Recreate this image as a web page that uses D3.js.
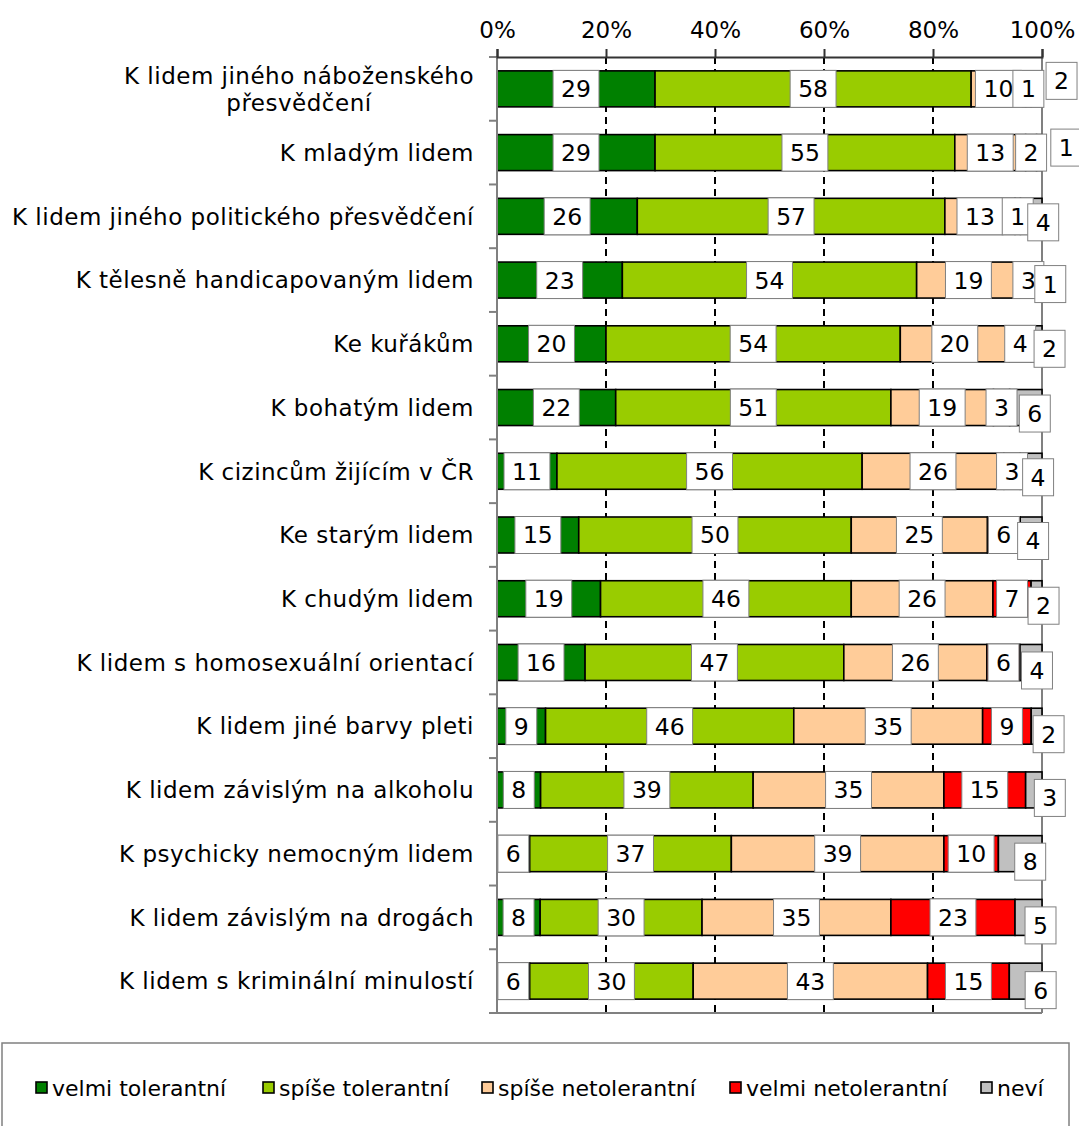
<!DOCTYPE html>
<html>
<head>
<meta charset="utf-8">
<script src="https://cdn.jsdelivr.net/npm/d3@7"></script>
<style>
  html, body { margin: 0; padding: 0; background: #fff; }
  svg { display: block; }
  text { font-family: "DejaVu Sans", Verdana, sans-serif; fill: #000; }
</style>
</head>
<body>
<svg id="chart" width="1079" height="1126"></svg>
<script>
// ---------------- data ----------------
const categories = [
  "K lidem jiného náboženského přesvědčení",
  "K mladým lidem",
  "K lidem jiného politického přesvědčení",
  "K tělesně handicapovaným lidem",
  "Ke kuřákům",
  "K bohatým lidem",
  "K cizincům žijícím v ČR",
  "Ke starým lidem",
  "K chudým lidem",
  "K lidem s homosexuální orientací",
  "K lidem jiné barvy pleti",
  "K lidem závislým na alkoholu",
  "K psychicky nemocným lidem",
  "K lidem závislým na drogách",
  "K lidem s kriminální minulostí"
];
const seriesNames = ["velmi tolerantní", "spíše tolerantní", "spíše netolerantní", "velmi netolerantní", "neví"];
const velmiTolerantni   = [29, 29, 26, 23, 20, 22, 11, 15, 19, 16,  9,  8,  6,  8,  6];
const spiseTolerantni   = [58, 55, 57, 54, 54, 51, 56, 50, 46, 47, 46, 39, 37, 30, 30];
const spiseNetolerantni = [10, 13, 13, 19, 20, 19, 26, 25, 26, 26, 35, 35, 39, 35, 43];
const velmiNetolerantni = [ 1,  2,  1,  3,  4,  3,  3,  6,  7,  6,  9, 15, 10, 23, 15];
const nevi              = [ 2,  1,  4,  1,  2,  6,  4,  4,  2,  4,  2,  3,  8,  5,  6];
const tickValues = [0, 20, 40, 60, 80, 100];

// layout-only: manual nudges of the "neví" labels [dx, dy] in px, legend item x positions
const neviLabelNudge = [[25,-8],[27,-5],[12,6],[11,4],[13,5],[9,6],[7,6],[2,6],[7,7],[6,8],[12,8],[16,8],[10,8],[12,8],[15,9]];
const legendItemX = [36, 263, 482, 730, 981];

const seriesValues = [velmiTolerantni, spiseTolerantni, spiseNetolerantni, velmiNetolerantni, nevi];
const colors = ["#008000", "#99CC00", "#FFCC99", "#FF0000", "#C0C0C0"];

// ---------------- scales ----------------
const svg = d3.select("#chart");
const plot = { left: 497, right: 1042, top: 57, bottom: 1013 };

const x = d3.scaleLinear().domain([0, 100]).range([plot.left, plot.right]);
const y = d3.scaleBand().domain(categories).range([plot.top, plot.bottom])
  .paddingInner(0.435).paddingOuter(0.2175);

// build stacked (100%) data
const rows = categories.map((c, i) => {
  const obj = { cat: c };
  seriesNames.forEach((s, k) => obj[s] = seriesValues[k][i]);
  return obj;
});
const stack = d3.stack().keys(seriesNames).offset(d3.stackOffsetExpand);
const stacked = stack(rows);

// ---------------- gridlines ----------------
svg.append("g").selectAll("line").data(tickValues.filter(v => v > 0 && v < 100)).join("line")
  .attr("x1", d => x(d)).attr("x2", d => x(d))
  .attr("y1", plot.top).attr("y2", plot.bottom)
  .attr("stroke", "#000").attr("stroke-width", 2).attr("stroke-dasharray", "7,5");

// plot frame right & bottom (gray)
svg.append("line").attr("x1", x(100)).attr("x2", x(100)).attr("y1", plot.top).attr("y2", plot.bottom)
  .attr("stroke", "#808080").attr("stroke-width", 2);
svg.append("line").attr("x1", plot.left).attr("x2", x(100)).attr("y1", plot.bottom).attr("y2", plot.bottom)
  .attr("stroke", "#808080").attr("stroke-width", 2);

// ---------------- bars ----------------
const barG = svg.append("g");
stacked.forEach((layer, k) => {
  barG.append("g").selectAll("rect").data(layer).join("rect")
    .attr("x", d => x(d[0] * 100))
    .attr("width", d => Math.max(0, x(d[1] * 100) - x(d[0] * 100)))
    .attr("y", d => y(d.data.cat))
    .attr("height", y.bandwidth())
    .attr("fill", colors[k])
    .attr("stroke", "#000").attr("stroke-width", 1.6);
});

// ---------------- axes ----------------
const leftG = svg.append("g");
leftG.append("line").attr("x1", plot.left).attr("x2", plot.left).attr("y1", plot.top).attr("y2", plot.bottom)
  .attr("stroke", "#808080").attr("stroke-width", 2);
const boundaries = d3.range(categories.length + 1).map(i => plot.top + i * y.step());
leftG.selectAll("line.t").data(boundaries).join("line").attr("class", "t")
  .attr("x1", plot.left - 8).attr("x2", plot.left).attr("y1", d => d).attr("y2", d => d)
  .attr("stroke", "#808080").attr("stroke-width", 2);

const topAxis = d3.axisTop(x).tickValues(tickValues).tickFormat(d => d + "%").tickSize(8).tickPadding(11);
const topG = svg.append("g").attr("transform", `translate(0,${plot.top})`).call(topAxis);
topG.select(".domain").attr("stroke", "#333").attr("stroke-width", 2);
topG.selectAll(".tick line").attr("stroke", "#333").attr("stroke-width", 2);
topG.selectAll(".tick text").attr("font-size", 23).attr("font-family", "DejaVu Sans").attr("fill", "#000");

// category labels (wrapped, centered block, right aligned to axis)
const labelRight = 474;
const maxLabelWidth = 478;
const catG = svg.append("g").attr("font-size", 23).attr("letter-spacing", 0.5);
const measurer = catG.append("text").attr("visibility", "hidden");
function measure(t) { measurer.text(t); return measurer.node().getComputedTextLength(); }
categories.forEach(c => {
  const words = c.split(" ");
  const lines = [];
  let cur = "";
  words.forEach(w => {
    const test = cur ? cur + " " + w : w;
    if (measure(test) > maxLabelWidth && cur) { lines.push(cur); cur = w; } else cur = test;
  });
  lines.push(cur);
  const widths = lines.map(measure);
  const maxW = d3.max(widths);
  const cx = labelRight - maxW / 2;
  const cy = y(c) + y.bandwidth() / 2;
  const lh = 27;
  const t = catG.append("text").attr("text-anchor", "middle");
  lines.forEach((ln, i) => {
    t.append("tspan").attr("x", cx)
      .attr("y", cy + (i - (lines.length - 1) / 2) * lh)
      .attr("dy", "0.36em").text(ln);
  });
});
measurer.remove();

// ---------------- value labels ----------------
const lblG = svg.append("g").attr("font-size", 23.5);
const lblMeasure = lblG.append("text").attr("visibility", "hidden");
stacked.forEach((layer, k) => {
  layer.forEach((d, i) => {
    const v = seriesValues[k][i];
    let cx = x((d[0] + d[1]) / 2 * 100);
    let cy = y(d.data.cat) + y.bandwidth() / 2;
    if (k === 4) { cx += neviLabelNudge[i][0]; cy += neviLabelNudge[i][1]; }
    lblMeasure.text(String(v));
    const tw = lblMeasure.node().getComputedTextLength();
    const w = tw + 16, h = 37;
    const g = lblG.append("g");
    g.append("rect").attr("x", cx - w / 2).attr("y", cy - h / 2).attr("width", w).attr("height", h)
      .attr("fill", "#fff").attr("stroke", "#808080").attr("stroke-width", 1);
    g.append("text").attr("x", cx).attr("y", cy).attr("dy", "0.36em")
      .attr("text-anchor", "middle").text(v);
  });
});
lblMeasure.remove();

// ---------------- legend ----------------
const legG = svg.append("g");
legG.append("rect").attr("x", 2).attr("y", 1043).attr("width", 1067).attr("height", 100)
  .attr("fill", "#fff").attr("stroke", "#808080").attr("stroke-width", 1.5);
const ly = 1088;
seriesNames.forEach((s, k) => {
  const lx = legendItemX[k];
  legG.append("rect").attr("x", lx).attr("y", ly - 6).attr("width", 11).attr("height", 11)
    .attr("fill", colors[k]).attr("stroke", "#000").attr("stroke-width", 1.6);
  legG.append("text").attr("x", lx + 16).attr("y", ly).attr("dy", "0.36em")
    .attr("font-size", 22).text(s);
});
</script>
</body>
</html>
